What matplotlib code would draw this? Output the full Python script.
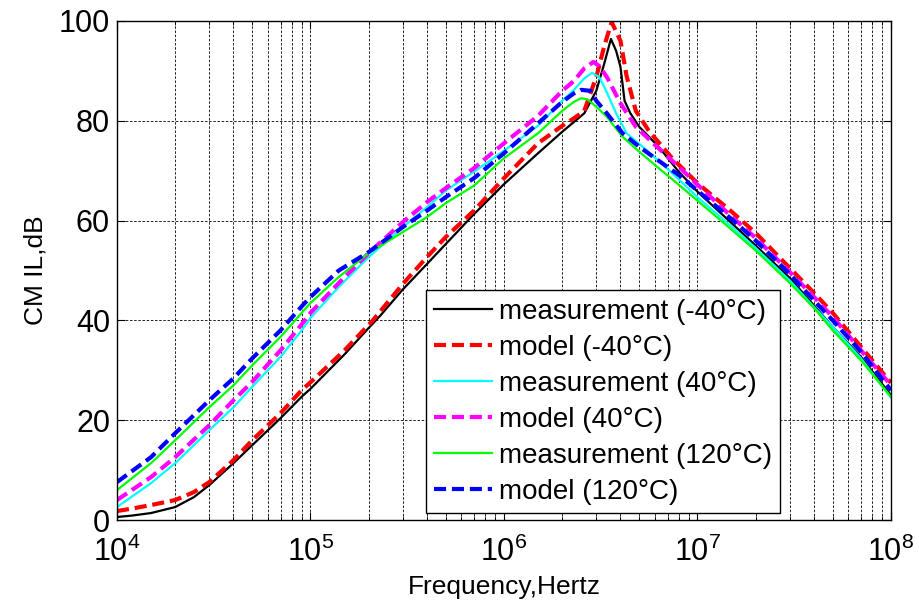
import numpy as np
import matplotlib
matplotlib.use("Agg")
import matplotlib.pyplot as plt
from matplotlib.ticker import LogLocator, NullFormatter

plt.rcParams['font.family'] = ['Liberation Sans', 'DejaVu Sans']
plt.rcParams['mathtext.fontset'] = 'custom'
plt.rcParams['mathtext.rm'] = 'Liberation Sans'

# measurement (-40C)
black_f = [1e4, 1.2e4, 1.5e4, 2e4, 2.5e4, 3e4, 4e4, 5e4, 7e4, 9e4, 1e5, 1.5e5, 2e5, 2.3e5, 3e5, 4e5, 5e5, 7e5,
           1e6, 1.5e6, 2e6, 2.6e6, 3.0e6, 3.3e6, 3.57e6, 3.8e6, 4.0e6, 4.2e6, 4.5e6, 5e6, 6.3e6, 8e6,
           1e7, 1.5e7, 2e7, 3e7, 4e7, 5e7, 7e7, 1e8]
black_db = [0.6, 0.9, 1.4, 2.6, 4.6, 7.0, 11.4, 15.0, 20.4, 24.7, 26.3, 33.2, 38.5, 41.0, 46.2, 51.3, 55.3, 61.3,
            67.3, 73.5, 77.8, 81.5, 86.0, 91.5, 96.4, 94.0, 90.8, 84.0, 81.5, 78.8, 74.8, 69.8,
            65.8, 59.5, 55.0, 48.5, 43.0, 38.7, 32.7, 25.0]

# model (-40C)
red_f = [1e4, 1.2e4, 1.5e4, 2e4, 2.5e4, 3e4, 4e4, 5e4, 7e4, 9e4, 1e5, 1.5e5, 2.1e5, 3e5, 4e5, 5e5, 7e5,
         1e6, 1.5e6, 2e6, 2.3e6, 2.6e6, 3e6, 3.3e6, 3.6e6, 4e6, 4.3e6, 4.8e6, 5.6e6, 7.4e6,
         1e7, 1.5e7, 2e7, 3e7, 4e7, 5e7, 7e7, 1e8]
red_db = [1.8, 2.3, 3.0, 4.0, 5.6, 7.6, 12.0, 16.0, 21.4, 26.0, 27.6, 34.0, 40.0, 47.3, 52.7, 56.7, 62.0,
          68.5, 75.5, 79.0, 80.5, 82.0, 88.8, 95.0, 99.8, 96.0, 89.0, 82.0, 78.0, 72.5,
          67.5, 61.8, 57.5, 50.5, 45.5, 41.5, 34.7, 27.5]

# measurement (40C)
cyan_f = [1e4, 1.5e4, 2e4, 3e4, 4e4, 5e4, 7e4, 9e4, 1e5, 1.4e5, 2e5, 2.5e5, 3e5, 4e5, 5e5, 7e5,
          1e6, 1.5e6, 2e6, 2.3e6, 2.6e6, 2.85e6, 3.1e6, 3.3e6, 3.8e6, 4.3e6, 5.5e6, 7.4e6,
          1e7, 1.5e7, 2e7, 3e7, 4e7, 5e7, 7e7, 1e8]
cyan_db = [2.6, 7.4, 11.4, 18.0, 22.6, 26.7, 32.7, 38.0, 40.5, 46.7, 52.7, 56.0, 58.7, 62.7, 66.0, 69.8,
           74.0, 79.0, 84.0, 86.2, 88.5, 89.6, 88.8, 86.8, 81.5, 77.5, 74.0, 69.5,
           64.7, 58.8, 54.5, 48.0, 42.7, 38.7, 32.4, 24.5]

# model (40C)
magenta_f = [1e4, 1.5e4, 2e4, 3e4, 4e4, 5e4, 7e4, 9e4, 1e5, 1.4e5, 2e5, 3e5, 4e5, 5e5, 7e5,
             1e6, 1.5e6, 2e6, 2.3e6, 2.6e6, 2.9e6, 3.1e6, 3.4e6, 4e6, 4.8e6, 6.1e6, 8e6,
             1e7, 1.5e7, 2e7, 3e7, 4e7, 5e7, 7e7, 1e8]
magenta_db = [4.0, 8.6, 12.6, 19.0, 24.0, 27.7, 34.0, 39.2, 41.5, 47.5, 53.5, 59.7, 63.7, 66.5, 70.5,
              75.5, 81.0, 86.0, 88.0, 90.5, 91.8, 91.0, 88.8, 83.5, 78.8, 75.0, 70.8,
              67.2, 60.8, 56.5, 49.7, 44.7, 40.7, 34.0, 27.0]

# measurement (120C)
green_f = [1e4, 1.5e4, 2e4, 3e4, 4e4, 5e4, 7e4, 9e4, 1e5, 1.4e5, 2e5, 3e5, 4e5, 5e5, 7e5,
           1e6, 1.5e6, 2e6, 2.3e6, 2.5e6, 2.7e6, 3e6, 3.4e6, 4.1e6, 5e6, 6.3e6, 7.4e6,
           1e7, 1.5e7, 2e7, 3e7, 4e7, 5e7, 7e7, 1e8]
green_db = [6.0, 11.4, 16.0, 22.6, 27.0, 31.0, 36.7, 41.5, 43.5, 48.7, 53.5, 57.7, 60.7, 63.5, 67.0,
            72.5, 77.5, 82.0, 83.8, 84.5, 84.3, 82.8, 80.8, 76.8, 73.8, 70.5, 68.3,
            64.0, 58.2, 54.0, 47.5, 42.5, 38.0, 32.0, 24.7]

# model (120C)
blue_f = [1e4, 1.5e4, 2e4, 3e4, 4e4, 5e4, 7e4, 9e4, 1e5, 1.4e5, 2e5, 3e5, 4e5, 5e5, 7e5,
          1e6, 1.5e6, 2e6, 2.3e6, 2.5e6, 2.8e6, 3e6, 3.4e6, 4.1e6, 5e6, 6.3e6, 8.1e6,
          1e7, 1.5e7, 2e7, 3e7, 4e7, 5e7, 7e7, 1e8]
blue_db = [7.6, 12.6, 17.4, 24.0, 28.4, 32.4, 38.0, 42.8, 44.7, 50.0, 53.7, 58.7, 62.0, 64.7, 68.5,
           73.5, 79.5, 83.8, 85.5, 86.2, 86.0, 84.0, 81.5, 77.5, 74.8, 72.0, 69.0,
           66.0, 60.3, 56.0, 49.3, 44.0, 40.0, 33.7, 26.0]

labels = ['measurement (-40°C)', 'model (-40°C)', 'measurement (40°C)',
          'model (40°C)', 'measurement (120°C)', 'model (120°C)']

fig = plt.figure(figsize=(9.19, 6.08), dpi=100)
ax = fig.add_axes([0.1273, 0.1447, 0.8422, 0.8208])

dash = (2.9, 1.4)
ax.semilogx(black_f, black_db, color='k', lw=1.6, label=labels[0])
ax.semilogx(red_f, red_db, color=(1, 0, 0), lw=3, dashes=dash, label=labels[1])
ax.semilogx(cyan_f, cyan_db, color=(0, 1, 1), lw=1.6, label=labels[2])
ax.semilogx(magenta_f, magenta_db, color=(1, 0, 1), lw=3, dashes=dash, label=labels[3])
ax.semilogx(green_f, green_db, color=(0, 1, 0), lw=1.6, label=labels[4])
ax.semilogx(blue_f, blue_db, color=(0, 0, 1), lw=3, dashes=dash, label=labels[5])

ax.set_xlim(1e4, 1e8)
ax.set_ylim(0, 100)
ax.set_yticks([0, 20, 40, 60, 80, 100])
ax.xaxis.set_major_locator(LogLocator(base=10, numticks=10))
ax.xaxis.set_minor_locator(LogLocator(base=10, subs=np.arange(2, 10), numticks=50))
ax.xaxis.set_minor_formatter(NullFormatter())

ax.grid(True, which='major', color='k', ls=(0, (3, 2)), lw=0.6)
ax.grid(True, which='minor', axis='x', color='k', ls=(0, (3, 2)), lw=0.6)
ax.tick_params(which='both', direction='in', top=True, right=True)
ax.tick_params(which='major', length=6, labelsize=22)
ax.tick_params(axis='x', which='major', pad=12)
ax.tick_params(axis='y', which='major', pad=5)
ax.tick_params(which='minor', length=3)
for s in ax.spines.values():
    s.set_linewidth(1.0)

ax.set_xlabel('Frequency,Hertz', fontsize=19, labelpad=5)
ax.set_ylabel('CM IL,dB', fontsize=19, labelpad=8)

leg = ax.legend(loc='lower right', bbox_to_anchor=(0.857, 0.014), borderaxespad=0,
                fontsize=20, handlelength=2.07, handletextpad=0.25, labelspacing=0.36,
                borderpad=0.3, fancybox=False, framealpha=1, edgecolor='k')
leg.get_frame().set_linewidth(1.0)

fig.savefig('out.png', dpi=100)
